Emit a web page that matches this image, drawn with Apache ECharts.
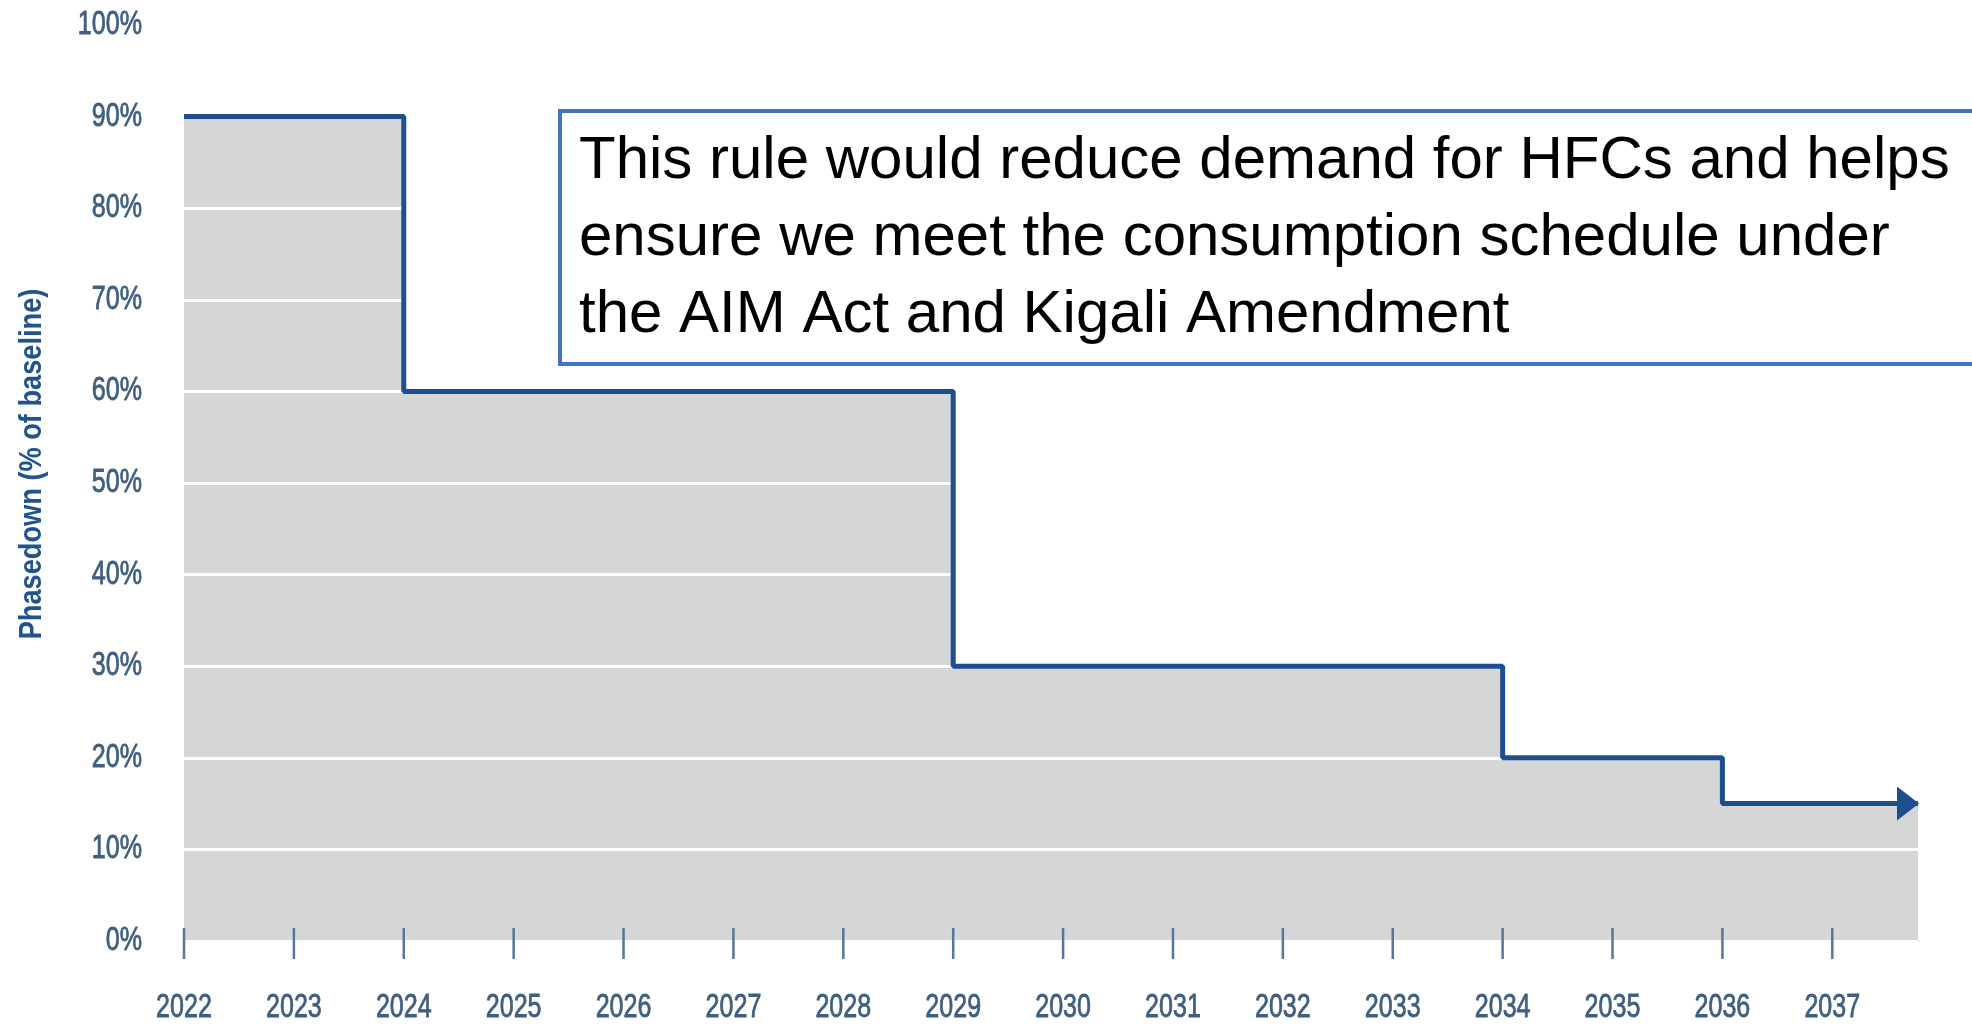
<!DOCTYPE html>
<html>
<head>
<meta charset="utf-8">
<title>HFC Phasedown Schedule</title>
<script src="https://cdn.jsdelivr.net/npm/echarts@6/dist/echarts.min.js"></script>
<style>
  html, body { margin: 0; padding: 0; background: #ffffff; }
  #chart { width: 1972px; height: 1031px; }
</style>
</head>
<body>
<div id="chart"></div>
<script>
// Phasedown step years and the allowed share of baseline from each year on
const stepYears = [2022, 2024, 2029, 2034, 2036];
const stepValues = [90, 60, 30, 20, 15];
// The last step continues past the final labelled year (shown with an arrow)
const scheduleEnd = 2037.78;
// Year tick labels along the bottom axis
const yearTicks = [2022, 2023, 2024, 2025, 2026, 2027, 2028, 2029, 2030, 2031, 2032, 2033, 2034, 2035, 2036, 2037];
// Percentage tick values on the left axis
const percentTicks = [0, 10, 20, 30, 40, 50, 60, 70, 80, 90, 100];

const yAxisTitle = 'Phasedown (% of baseline)';
const noteLines = [
  'This rule would reduce demand for HFCs and helps',
  'ensure we meet the consumption schedule under',
  'the AIM Act and Kigali Amendment'
];

const labelFont = "33px 'Liberation Sans', Arial, sans-serif";
const labelColor = '#3f5f80';
const labelSqueeze = 0.76;
const lineColor = '#1d4f8e';

const stepData = stepYears.map((y, i) => [y, stepValues[i]]);
stepData.push([scheduleEnd, stepValues[stepValues.length - 1]]);

const lineData = stepData.map((p, i) => {
  if (i === stepData.length - 1) {
    return {
      value: p,
      symbol: 'triangle',
      symbolSize: [34, 22],
      symbolRotate: -90,
      symbolOffset: [-10, 0]
    };
  }
  return { value: p, symbol: 'none' };
});

const chart = echarts.init(document.getElementById('chart'));

chart.setOption({
  animation: false,
  backgroundColor: '#ffffff',
  grid: { left: 184, right: 54, top: 25, bottom: 90, containLabel: false },
  xAxis: {
    type: 'value',
    min: yearTicks[0],
    max: scheduleEnd,
    interval: 1,
    axisLine: { show: true, lineStyle: { color: '#c2c4c7', width: 2 } },
    axisTick: { show: false },
    splitLine: { show: false },
    axisLabel: { show: false }
  },
  yAxis: {
    type: 'value',
    min: 0,
    max: 100,
    interval: 10,
    z: 3,
    axisLine: { show: false },
    axisTick: { show: false },
    splitLine: { show: true, lineStyle: { color: '#ffffff', width: 3 } },
    axisLabel: { show: false }
  },
  graphic: [
    {
      type: 'text',
      x: 32,
      y: 464,
      rotation: Math.PI / 2,
      scaleX: 0.85,
      style: {
        text: yAxisTitle,
        fill: '#21548f',
        font: "bold 32px 'Liberation Sans', Arial, sans-serif",
        align: 'center',
        verticalAlign: 'middle'
      },
      z: 10
    },
    {
      type: 'rect',
      shape: { x: 560, y: 111, width: 1440, height: 253 },
      style: { fill: '#ffffff', stroke: '#4472c4', lineWidth: 4 },
      z: 20
    },
    {
      type: 'text',
      x: 579,
      y: 123,
      style: {
        text: noteLines.join('\n'),
        fill: '#000000',
        font: "60px 'Liberation Sans', Arial, sans-serif",
        lineHeight: 77,
        align: 'left',
        verticalAlign: 'top'
      },
      z: 21
    }
  ],
  series: [
    {
      name: 'area',
      type: 'line',
      step: 'end',
      data: stepData,
      showSymbol: false,
      symbol: 'none',
      lineStyle: { width: 0 },
      areaStyle: { color: '#d5d6d8', opacity: 1 },
      z: 1,
      silent: true
    },
    {
      // year ticks crossing the baseline, with condensed year labels below
      name: 'yearTicks',
      type: 'custom',
      data: yearTicks.map(y => [y, 0]),
      z: 4,
      silent: true,
      renderItem: (params, api) => {
        const year = api.value(0);
        const p = api.coord([year, 0]);
        return {
          type: 'group',
          children: [
            {
              type: 'line',
              shape: { x1: p[0], y1: p[1] - 13, x2: p[0], y2: p[1] + 18 },
              style: { stroke: '#56769a', lineWidth: 2.5 }
            },
            {
              type: 'text',
              x: p[0],
              y: p[1] + 67,
              scaleX: labelSqueeze,
              style: {
                text: String(year),
                font: labelFont,
                fill: labelColor,
                stroke: labelColor,
                lineWidth: 0.8,
                align: 'center',
                verticalAlign: 'middle'
              }
            }
          ]
        };
      }
    },
    {
      // percentage labels left of the plot
      name: 'percentLabels',
      type: 'custom',
      data: percentTicks.map(v => [yearTicks[0], v]),
      z: 4,
      silent: true,
      renderItem: (params, api) => {
        const v = api.value(1);
        const p = api.coord([api.value(0), v]);
        return {
          type: 'text',
          x: p[0] - 42,
          y: p[1],
          scaleX: labelSqueeze,
          style: {
            text: v + '%',
            font: labelFont,
            fill: labelColor,
            stroke: labelColor,
            lineWidth: 0.8,
            align: 'right',
            verticalAlign: 'middle'
          }
        };
      }
    },
    {
      name: 'schedule',
      type: 'line',
      step: 'end',
      data: lineData,
      showSymbol: true,
      showAllSymbol: true,
      symbol: 'none',
      itemStyle: { color: lineColor },
      lineStyle: { color: lineColor, width: 5 },
      z: 5,
      silent: true
    }
  ]
});
</script>
</body>
</html>
